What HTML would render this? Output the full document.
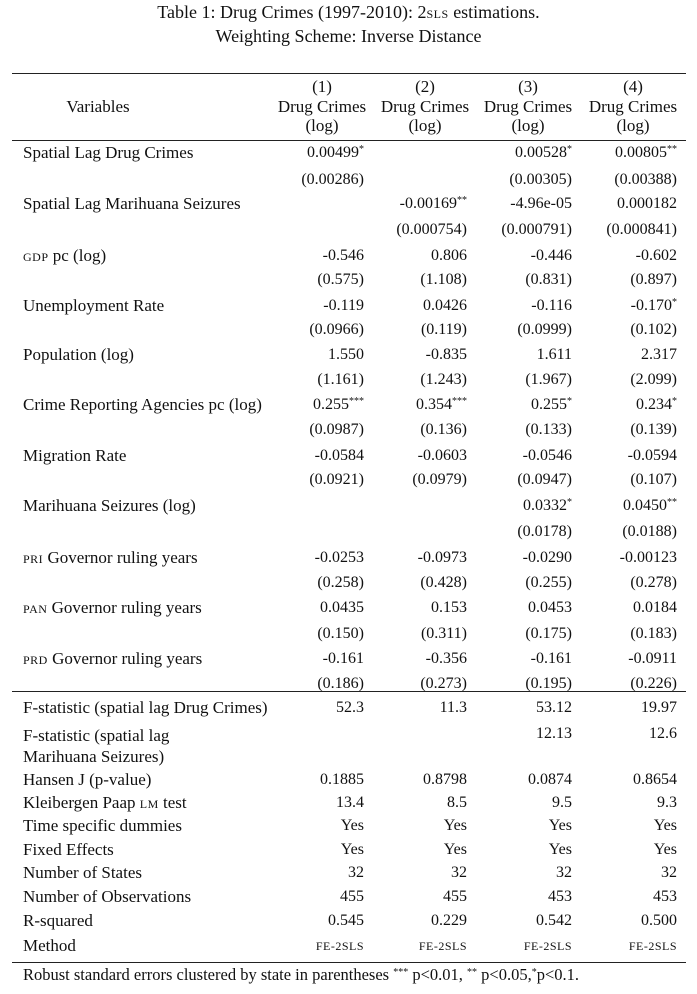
<!DOCTYPE html>
<html><head><meta charset="utf-8"><style>
body{margin:0;width:697px;height:994px;background:#fff;position:relative;font-family:"Liberation Serif",serif;font-size:16px;color:#111;overflow:hidden}
div.t{position:absolute;line-height:18px;white-space:nowrap}
.l{left:23px;font-size:17px}
.c1,.c2,.c3,.c4{text-align:right;width:150px}
.c1{left:214px}.c2{left:317px}.c3{left:422px}.c4{left:527px}
.h{text-align:center;width:120px;font-size:17px;line-height:19.5px!important}
.r{position:absolute;left:12px;width:674px;height:1px;background:#222}
sup{font-size:10px;vertical-align:5px;line-height:0}
.sc{font-size:12px;letter-spacing:.5px}
</style></head><body>
<div class="t" style="left:0;width:697px;text-align:center;top:3px;font-size:18px">Table 1: Drug Crimes (1997-2010): 2<span class="sc">SLS</span> estimations.</div>
<div class="t" style="left:0;width:697px;text-align:center;top:27px;font-size:18px">Weighting Scheme: Inverse Distance</div>
<div class="r" style="top:73px"></div>
<div class="t" style="left:38px;width:120px;text-align:center;top:98px;font-size:17px">Variables</div>
<div class="t h" style="left:262px;top:77px">(1)<br>Drug Crimes<br>(log)</div>
<div class="t h" style="left:365px;top:77px">(2)<br>Drug Crimes<br>(log)</div>
<div class="t h" style="left:468px;top:77px">(3)<br>Drug Crimes<br>(log)</div>
<div class="t h" style="left:573px;top:77px">(4)<br>Drug Crimes<br>(log)</div>
<div class="r" style="top:140px"></div>

<div class="t l" style="top:144px">Spatial Lag Drug Crimes</div>
<div class="t c1" style="top:144px">0.00499<sup>*</sup></div><div class="t c3" style="top:144px">0.00528<sup>*</sup></div><div class="t c4" style="top:144px">0.00805<sup>**</sup></div>
<div class="t c1" style="top:171px">(0.00286)</div><div class="t c3" style="top:171px">(0.00305)</div><div class="t c4" style="top:171px">(0.00388)</div>

<div class="t l" style="top:195px">Spatial Lag Marihuana Seizures</div>
<div class="t c2" style="top:195px">-0.00169<sup>**</sup></div><div class="t c3" style="top:195px">-4.96e-05</div><div class="t c4" style="top:195px">0.000182</div>
<div class="t c2" style="top:221px">(0.000754)</div><div class="t c3" style="top:221px">(0.000791)</div><div class="t c4" style="top:221px">(0.000841)</div>

<div class="t l" style="top:247px"><span class="sc">GDP</span> pc (log)</div>
<div class="t c1" style="top:247px">-0.546</div><div class="t c2" style="top:247px">0.806</div><div class="t c3" style="top:247px">-0.446</div><div class="t c4" style="top:247px">-0.602</div>
<div class="t c1" style="top:271px">(0.575)</div><div class="t c2" style="top:271px">(1.108)</div><div class="t c3" style="top:271px">(0.831)</div><div class="t c4" style="top:271px">(0.897)</div>

<div class="t l" style="top:297px">Unemployment Rate</div>
<div class="t c1" style="top:297px">-0.119</div><div class="t c2" style="top:297px">0.0426</div><div class="t c3" style="top:297px">-0.116</div><div class="t c4" style="top:297px">-0.170<sup>*</sup></div>
<div class="t c1" style="top:321px">(0.0966)</div><div class="t c2" style="top:321px">(0.119)</div><div class="t c3" style="top:321px">(0.0999)</div><div class="t c4" style="top:321px">(0.102)</div>

<div class="t l" style="top:346px">Population (log)</div>
<div class="t c1" style="top:346px">1.550</div><div class="t c2" style="top:346px">-0.835</div><div class="t c3" style="top:346px">1.611</div><div class="t c4" style="top:346px">2.317</div>
<div class="t c1" style="top:371px">(1.161)</div><div class="t c2" style="top:371px">(1.243)</div><div class="t c3" style="top:371px">(1.967)</div><div class="t c4" style="top:371px">(2.099)</div>

<div class="t l" style="top:396px">Crime Reporting Agencies pc (log)</div>
<div class="t c1" style="top:396px">0.255<sup>***</sup></div><div class="t c2" style="top:396px">0.354<sup>***</sup></div><div class="t c3" style="top:396px">0.255<sup>*</sup></div><div class="t c4" style="top:396px">0.234<sup>*</sup></div>
<div class="t c1" style="top:421px">(0.0987)</div><div class="t c2" style="top:421px">(0.136)</div><div class="t c3" style="top:421px">(0.133)</div><div class="t c4" style="top:421px">(0.139)</div>

<div class="t l" style="top:447px">Migration Rate</div>
<div class="t c1" style="top:447px">-0.0584</div><div class="t c2" style="top:447px">-0.0603</div><div class="t c3" style="top:447px">-0.0546</div><div class="t c4" style="top:447px">-0.0594</div>
<div class="t c1" style="top:471px">(0.0921)</div><div class="t c2" style="top:471px">(0.0979)</div><div class="t c3" style="top:471px">(0.0947)</div><div class="t c4" style="top:471px">(0.107)</div>

<div class="t l" style="top:497px">Marihuana Seizures (log)</div>
<div class="t c3" style="top:497px">0.0332<sup>*</sup></div><div class="t c4" style="top:497px">0.0450<sup>**</sup></div>
<div class="t c3" style="top:523px">(0.0178)</div><div class="t c4" style="top:523px">(0.0188)</div>

<div class="t l" style="top:549px"><span class="sc">PRI</span> Governor ruling years</div>
<div class="t c1" style="top:549px">-0.0253</div><div class="t c2" style="top:549px">-0.0973</div><div class="t c3" style="top:549px">-0.0290</div><div class="t c4" style="top:549px">-0.00123</div>
<div class="t c1" style="top:574px">(0.258)</div><div class="t c2" style="top:574px">(0.428)</div><div class="t c3" style="top:574px">(0.255)</div><div class="t c4" style="top:574px">(0.278)</div>

<div class="t l" style="top:599px"><span class="sc">PAN</span> Governor ruling years</div>
<div class="t c1" style="top:599px">0.0435</div><div class="t c2" style="top:599px">0.153</div><div class="t c3" style="top:599px">0.0453</div><div class="t c4" style="top:599px">0.0184</div>
<div class="t c1" style="top:625px">(0.150)</div><div class="t c2" style="top:625px">(0.311)</div><div class="t c3" style="top:625px">(0.175)</div><div class="t c4" style="top:625px">(0.183)</div>

<div class="t l" style="top:650px"><span class="sc">PRD</span> Governor ruling years</div>
<div class="t c1" style="top:650px">-0.161</div><div class="t c2" style="top:650px">-0.356</div><div class="t c3" style="top:650px">-0.161</div><div class="t c4" style="top:650px">-0.0911</div>
<div class="t c1" style="top:675px">(0.186)</div><div class="t c2" style="top:675px">(0.273)</div><div class="t c3" style="top:675px">(0.195)</div><div class="t c4" style="top:675px">(0.226)</div>
<div class="r" style="top:691px"></div>

<div class="t l" style="top:699px">F-statistic (spatial lag Drug Crimes)</div>
<div class="t c1" style="top:699px">52.3</div><div class="t c2" style="top:699px">11.3</div><div class="t c3" style="top:699px">53.12</div><div class="t c4" style="top:699px">19.97</div>
<div class="t l" style="top:725px;line-height:21px">F-statistic (spatial lag<br>Marihuana Seizures)</div>
<div class="t c3" style="top:725px">12.13</div><div class="t c4" style="top:725px">12.6</div>
<div class="t l" style="top:771px">Hansen J (p-value)</div>
<div class="t c1" style="top:771px">0.1885</div><div class="t c2" style="top:771px">0.8798</div><div class="t c3" style="top:771px">0.0874</div><div class="t c4" style="top:771px">0.8654</div>
<div class="t l" style="top:794px">Kleibergen Paap <span class="sc">LM</span> test</div>
<div class="t c1" style="top:794px">13.4</div><div class="t c2" style="top:794px">8.5</div><div class="t c3" style="top:794px">9.5</div><div class="t c4" style="top:794px">9.3</div>
<div class="t l" style="top:817px">Time specific dummies</div>
<div class="t c1" style="top:817px">Yes</div><div class="t c2" style="top:817px">Yes</div><div class="t c3" style="top:817px">Yes</div><div class="t c4" style="top:817px">Yes</div>
<div class="t l" style="top:841px">Fixed Effects</div>
<div class="t c1" style="top:841px">Yes</div><div class="t c2" style="top:841px">Yes</div><div class="t c3" style="top:841px">Yes</div><div class="t c4" style="top:841px">Yes</div>
<div class="t l" style="top:864px">Number of States</div>
<div class="t c1" style="top:864px">32</div><div class="t c2" style="top:864px">32</div><div class="t c3" style="top:864px">32</div><div class="t c4" style="top:864px">32</div>
<div class="t l" style="top:888px">Number of Observations</div>
<div class="t c1" style="top:888px">455</div><div class="t c2" style="top:888px">455</div><div class="t c3" style="top:888px">453</div><div class="t c4" style="top:888px">453</div>
<div class="t l" style="top:912px">R-squared</div>
<div class="t c1" style="top:912px">0.545</div><div class="t c2" style="top:912px">0.229</div><div class="t c3" style="top:912px">0.542</div><div class="t c4" style="top:912px">0.500</div>
<div class="t l" style="top:937px">Method</div>
<div class="t c1" style="top:937px"><span class="sc">FE-2SLS</span></div><div class="t c2" style="top:937px"><span class="sc">FE-2SLS</span></div><div class="t c3" style="top:937px"><span class="sc">FE-2SLS</span></div><div class="t c4" style="top:937px"><span class="sc">FE-2SLS</span></div>
<div class="r" style="top:962px"></div>
<div class="t" style="left:23px;top:966px;font-size:16.5px">Robust standard errors clustered by state in parentheses <sup>***</sup> p&lt;0.01, <sup>**</sup> p&lt;0.05,<sup>*</sup>p&lt;0.1.</div>
</body></html>
